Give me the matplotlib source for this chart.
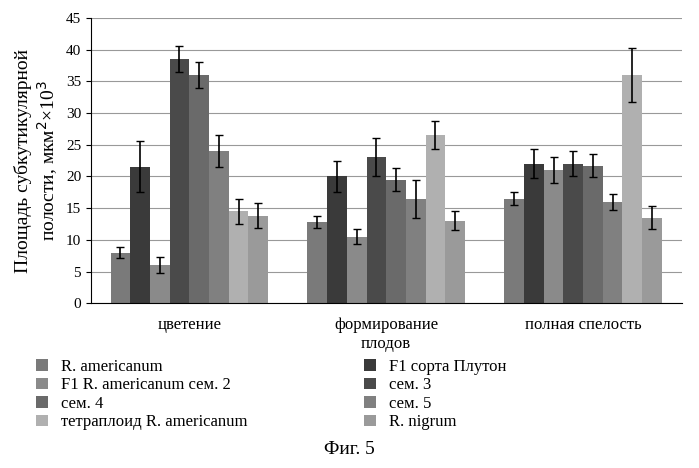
import matplotlib.pyplot as plt
import numpy as np

plt.rcParams['font.family'] = 'Liberation Serif'

groups = ["цветение", "формирование\nплодов", "полная спелость"]
series = ["R. americanum", "F1 сорта Плутон", "F1 R. americanum сем. 2", "сем. 3",
          "сем. 4", "сем. 5", "тетраплоид R. americanum", "R. nigrum"]
values = [
    [8.0, 12.8, 16.5],
    [21.5, 20.0, 22.0],
    [6.0, 10.5, 21.0],
    [38.5, 23.0, 22.0],
    [36.0, 19.5, 21.7],
    [24.0, 16.5, 16.0],
    [14.5, 26.5, 36.0],
    [13.8, 13.0, 13.5],
]
errors = [
    [0.8, 1.0, 1.0],
    [4.0, 2.5, 2.3],
    [1.3, 1.2, 2.0],
    [2.0, 3.0, 2.0],
    [2.0, 1.8, 1.8],
    [2.5, 3.0, 1.3],
    [2.0, 2.2, 4.2],
    [2.0, 1.5, 1.8],
]
colors = ["#7a7a7a", "#3a3a3a", "#8a8a8a", "#4a4a4a",
          "#6a6a6a", "#808080", "#b0b0b0", "#9a9a9a"]

fig = plt.figure(figsize=(6.99, 4.68), dpi=100)
ax = fig.add_axes([0.13, 0.352, 0.845, 0.61])
x = np.arange(len(groups))
w = 0.1
for i, (name, v, e, c) in enumerate(zip(series, values, errors, colors)):
    ax.bar(x + (i - 3.5) * w, v, w, yerr=e, color=c, label=name,
           error_kw=dict(ecolor='black', capsize=3, lw=1.2))
ax.set_xlim(-0.5, 2.5)
ax.set_ylim(0, 45)
ax.set_yticks(range(0, 46, 5))
ax.set_xticks(x)
ax.set_xticklabels(groups, fontsize=12)
ax.tick_params(axis='x', length=0, pad=10)
ax.tick_params(axis='y', labelsize=11)
ax.yaxis.grid(True, color='#999999', lw=0.8)
ax.set_axisbelow(True)
for s in ['top', 'right']:
    ax.spines[s].set_visible(False)
ax.set_ylabel("Площадь субкутикулярной\nполости, мкм$^2$×10$^3$", fontsize=14)

h, l = ax.get_legend_handles_labels()
order = [0, 2, 4, 6, 1, 3, 5, 7]
fig.legend([h[i] for i in order], [l[i] for i in order], ncol=2,
           loc='upper left', bbox_to_anchor=(0.03, 0.265), frameon=False,
           fontsize=12, handlelength=0.7, handleheight=0.7,
           columnspacing=7, labelspacing=0.15)
fig.text(0.5, 0.03, "Фиг. 5", ha='center', fontsize=14)
fig.savefig("out.png", dpi=100)
